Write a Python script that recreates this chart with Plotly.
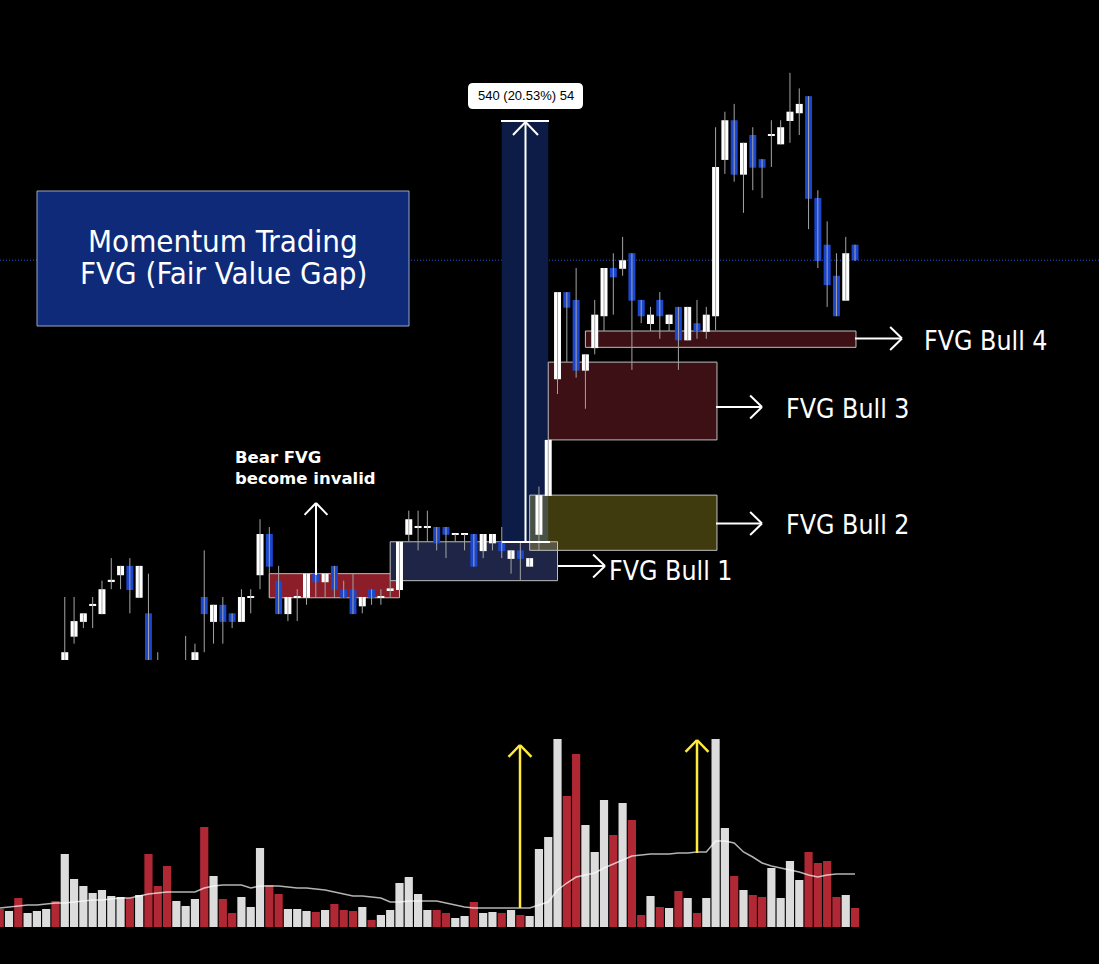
import plotly.graph_objects as go

# ---------------- data (bar index 0..92) ----------------
bar_index = list(range(93))

price_open = [
    2452, 2438, 2450, 2432, 2444, 2452, 2463, 2472, 2507, 2526,
    2548, 2536, 2579, 2586, 2598, 2557, 2537, 2467, 2451, 2432,
    2451, 2472, 2558, 2526, 2548, 2537, 2526, 2558, 2586, 2639,
    2579, 2536, 2558, 2557, 2588, 2577, 2598, 2568, 2568, 2546,
    2568, 2558, 2568, 2567, 2638, 2648, 2648, 2648, 2648, 2639,
    2639, 2639, 2617, 2627, 2629, 2607, 2618, 2597, 2638, 2688,
    2838, 2950, 2940, 2849, 2878, 2919, 2981, 2980, 3000, 2940,
    2909, 2940, 2909, 2931, 2888, 2910, 2899, 2919, 3120, 3171,
    3101, 3152, 3121, 3152, 3140, 3170, 3180, 3202, 3071, 3011,
    2971, 2939, 3011]
price_high = [
    2466, 2455, 2462, 2448, 2458, 2470, 2474, 2558, 2558, 2537,
    2558, 2579, 2608, 2598, 2608, 2598, 2588, 2487, 2469, 2467,
    2508, 2498, 2618, 2548, 2558, 2537, 2568, 2568, 2658, 2648,
    2598, 2558, 2568, 2588, 2588, 2588, 2598, 2579, 2588, 2558,
    2568, 2568, 2579, 2629, 2669, 2669, 2669, 2648, 2648, 2639,
    2639, 2639, 2639, 2639, 2648, 2618, 2629, 2608, 2700, 2760,
    2950, 2950, 2981, 2870, 2940, 2981, 3000, 3021, 3000, 2940,
    2931, 2950, 2921, 2931, 2931, 2940, 2931, 3162, 3182, 3192,
    3142, 3162, 3121, 3171, 3171, 3232, 3212, 3202, 3081, 3041,
    3000, 3021, 3011]
price_low = [
    2430, 2431, 2425, 2428, 2440, 2446, 2448, 2464, 2498, 2518,
    2518, 2536, 2568, 2568, 2537, 2557, 2458, 2436, 2426, 2423,
    2444, 2467, 2487, 2498, 2498, 2518, 2526, 2537, 2568, 2557,
    2536, 2527, 2527, 2548, 2557, 2557, 2557, 2557, 2536, 2537,
    2548, 2548, 2558, 2567, 2629, 2618, 2629, 2618, 2608, 2629,
    2618, 2597, 2608, 2618, 2608, 2588, 2579, 2597, 2618, 2688,
    2819, 2860, 2840, 2800, 2870, 2900, 2921, 2971, 2850, 2910,
    2900, 2890, 2900, 2850, 2888, 2890, 2890, 2901, 3102, 3092,
    3052, 3081, 3071, 3111, 3140, 3142, 3152, 3031, 2981, 2931,
    2919, 2939, 2990]
price_close = [
    2438, 2450, 2432, 2444, 2452, 2463, 2455, 2487, 2527, 2537,
    2548, 2568, 2579, 2598, 2567, 2598, 2467, 2451, 2438, 2456,
    2472, 2487, 2536, 2548, 2526, 2526, 2558, 2558, 2639, 2597,
    2536, 2558, 2558, 2588, 2577, 2588, 2567, 2557, 2536, 2558,
    2557, 2558, 2568, 2629, 2658, 2648, 2648, 2627, 2638, 2639,
    2639, 2597, 2639, 2639, 2617, 2618, 2607, 2608, 2689, 2760,
    2950, 2930, 2849, 2870, 2921, 2981, 2969, 2991, 2939, 2919,
    2921, 2919, 2921, 2888, 2931, 2899, 2921, 3111, 3171, 3101,
    3142, 3110, 3110, 3152, 3162, 3182, 3192, 3070, 2990, 2959,
    2919, 3000, 2991]
volume = [
    18, 16, 29, 14, 16, 18, 26, 73, 48, 41,
    34, 37, 31, 30, 29, 32, 73, 41, 61, 26,
    21, 28, 100, 51, 28, 14, 30, 20, 79, 42,
    33, 18, 18, 16, 15, 17, 23, 17, 16, 20,
    7, 12, 17, 44, 50, 33, 17, 17, 14, 9,
    11, 25, 14, 15, 14, 17, 12, 11, 78, 90,
    188, 131, 173, 102, 75, 127, 92, 124, 107, 12,
    31, 20, 19, 36, 29, 14, 29, 188, 99, 51,
    37, 32, 30, 59, 29, 66, 47, 75, 64, 66,
    30, 32, 19]
volume_ma = [
    19, 20, 21, 22, 22, 23, 24, 24, 25, 26,
    27, 27, 28, 29, 29, 31, 33, 34, 35, 35,
    35, 35, 39, 41, 42, 42, 42, 39, 41, 41,
    41, 40, 39, 39, 38, 37, 35, 33, 31, 31,
    30, 29, 25, 25, 26, 26, 26, 26, 24, 22,
    20, 19, 19, 19, 19, 19, 19, 19, 22, 25,
    37, 44, 50, 52, 54, 59, 63, 67, 71, 72,
    73, 73, 73, 74, 74, 75, 75, 86, 86, 84,
    75, 70, 64, 61, 59, 57, 55, 52, 50, 52,
    53, 53, 53]

# FVG zones: (start bar, end bar, low price, high price)
bear_fvg = (29, 43, 2557, 2588)
bull_fvg_1 = (42, 60, 2579, 2629)
bull_fvg_2 = (57, 77.15, 2618, 2689)
bull_fvg_3 = (59, 77.15, 2760, 2860)
bull_fvg_4 = (63, 92.1, 2879, 2900)
measure = (54, 59, 2630, 3170)
measure_label = "540 (20.53%) 54"

title_lines = ["Momentum Trading", "FVG (Fair Value Gap)"]
bull_labels = ["FVG Bull 1", "FVG Bull 2", "FVG Bull 3", "FVG Bull 4"]
bear_label = ["Bear FVG", "become invalid"]

# ---------------- styling ----------------
W, H = 1099, 964
UP = "#FFFFFF"
DOWN = "#1B47CF"
VOL_UP = "#DCDCDC"
VOL_DOWN = "#B02834"
FONT = "DejaVu Sans Condensed, DejaVu Sans, sans-serif"


def px(x):
    return x / W


def py(y):
    return 1 - y / H


fig = go.Figure()

# wicks
wx, wy = [], []
for i, h, l in zip(bar_index, price_high, price_low):
    wx += [i, i, None]
    wy += [h, l, None]
fig.add_trace(go.Scatter(x=wx, y=wy, mode="lines", line=dict(color="#a4a4a4", width=1),
                         hoverinfo="skip", yaxis="y"))

# bodies
body_base, body_h, body_col = [], [], []
for o, c in zip(price_open, price_close):
    d = abs(c - o)
    if d < 2.2:
        body_base.append(min(o, c) - 1.1)
        body_h.append(2.2)
    else:
        body_base.append(min(o, c))
        body_h.append(d)
    body_col.append(UP if c >= o else DOWN)
fig.add_trace(go.Bar(x=bar_index, y=body_h, base=body_base, width=0.75,
                     marker=dict(color=body_col, line=dict(width=0)), yaxis="y",
                     hoverinfo="skip"))

# volume
vol_col = [VOL_UP if c >= o else VOL_DOWN for o, c in zip(price_open, price_close)]
fig.add_trace(go.Bar(x=bar_index, y=volume, width=0.88, yaxis="y2",
                     marker=dict(color=vol_col, line=dict(width=0)), hoverinfo="skip"))
fig.add_trace(go.Scatter(x=bar_index, y=volume_ma, yaxis="y2", mode="lines",
                         line=dict(color="rgba(255,255,255,0.7)", width=1.5), hoverinfo="skip"))

shapes = []
# last price dotted line
shapes.append(dict(type="line", xref="paper", x0=0, x1=1, yref="y", y0=price_close[-1],
                   y1=price_close[-1], line=dict(color="#2B4FE0", width=1, dash="1px,2px"),
                   layer="below"))
# measure box
shapes.append(dict(type="rect", xref="x", yref="y", x0=measure[0], x1=measure[1],
                   y0=measure[2], y1=measure[3], fillcolor="#0C1C47",
                   line=dict(width=0), layer="below"))


def zone(z, fill):
    return dict(type="rect", xref="x", yref="y", x0=z[0], x1=z[1], y0=z[2], y1=z[3],
                fillcolor=fill, line=dict(color="#BDBDBD", width=1), layer="below")


shapes.append(zone(bear_fvg, "#8B1E28"))
shapes.append(zone(bull_fvg_1, "#1F2547"))
shapes.append(zone(bull_fvg_3, "#3C1014"))
shapes.append(zone(bull_fvg_4, "#3C1014"))
shapes.append(zone(bull_fvg_2, "rgba(255,235,59,0.25)"))

# title box
shapes.append(dict(type="rect", xref="paper", yref="paper", x0=px(37), x1=px(409),
                   y0=py(326), y1=py(191), fillcolor="#0E2A78",
                   line=dict(color="#9AA6C8", width=1), layer="below"))


def line_px(x0, y0, x1, y1, color, width=2):
    return dict(type="line", xref="paper", yref="paper", x0=px(x0), y0=py(y0),
                x1=px(x1), y1=py(y1), line=dict(color=color, width=width), layer="above")


def arrow(x0, y0, x1, y1, color, width=2, arm=16.5):
    import math
    ang = math.atan2(y1 - y0, x1 - x0)
    out = [line_px(x0, y0, x1, y1, color, width)]
    for s in (1, -1):
        a = ang + math.pi + s * math.radians(44)
        out.append(line_px(x1, y1, x1 + arm * math.cos(a), y1 + arm * math.sin(a), color, width))
    return out


# measure tool arrow
shapes += arrow(525.5, 541, 525.5, 122, "#FFFFFF", 2, 18)
shapes.append(line_px(501, 121, 549, 121, "#FFFFFF", 2))
shapes.append(line_px(502, 542, 550, 542, "#FFFFFF", 2))
# rounded label box
x0, x1, y0, y1, r = 468, 583, 83, 109, 5
path = (f"M {px(x0 + r)} {py(y0)} L {px(x1 - r)} {py(y0)} Q {px(x1)} {py(y0)} {px(x1)} {py(y0 + r)} "
        f"L {px(x1)} {py(y1 - r)} Q {px(x1)} {py(y1)} {px(x1 - r)} {py(y1)} "
        f"L {px(x0 + r)} {py(y1)} Q {px(x0)} {py(y1)} {px(x0)} {py(y1 - r)} "
        f"L {px(x0)} {py(y0 + r)} Q {px(x0)} {py(y0)} {px(x0 + r)} {py(y0)} Z")
shapes.append(dict(type="path", xref="paper", yref="paper", path=path, fillcolor="#FFFFFF",
                   line=dict(width=0), layer="above"))

# FVG arrows
shapes += arrow(316, 575, 316, 503, "#FFFFFF")
shapes += arrow(558, 566, 605, 566, "#FFFFFF")
shapes += arrow(716, 523.5, 762, 523.5, "#FFFFFF")
shapes += arrow(716, 407, 762, 407, "#FFFFFF")
shapes += arrow(855, 338.5, 902, 338.5, "#FFFFFF")
# volume arrows
shapes += arrow(520, 908, 520, 745, "#FFEB3B", 2.5)
shapes += arrow(697, 853, 697, 740, "#FFEB3B", 2.5)

annotations = []


def text(t, x, y, size, xanchor="left", color="#FFFFFF", family=FONT):
    annotations.append(dict(text=t, x=px(x), y=py(y), xref="paper", yref="paper",
                            xanchor=xanchor, yanchor="middle", showarrow=False,
                            font=dict(size=size, color=color, family=family)))


text(title_lines[0], 223, 241, 31, "center")
text(title_lines[1], 223, 273, 31, "center")
text(bull_labels[0], 607, 570, 26.5)
text(bull_labels[1], 784, 524, 26.5)
text(bull_labels[2], 784, 408, 26.5)
text(bull_labels[3], 922, 340, 26.5)
text("<b>" + bear_label[0] + "</b>", 233, 457, 16.5, family="DejaVu Sans, sans-serif")
text("<b>" + bear_label[1] + "</b>", 233, 478, 16.5, family="DejaVu Sans, sans-serif")
text(measure_label, 525.5, 96, 13, "center", "#000000", "Liberation Sans, Arial, sans-serif")

fig.update_layout(
    width=W, height=H, margin=dict(l=0, r=0, t=0, b=0),
    paper_bgcolor="#000000", plot_bgcolor="#000000",
    showlegend=False, barmode="overlay", hovermode=False,
    xaxis=dict(range=[0.032, 118.24], visible=False, domain=[0, 1], fixedrange=True),
    yaxis=dict(domain=[1 - 660 / H, 1], range=[2477, 3325.6], visible=False, fixedrange=True),
    yaxis2=dict(domain=[37 / H, 225 / H], range=[0, 188], visible=False, anchor="x",
                fixedrange=True),
    shapes=shapes, annotations=annotations,
)

fig.write_html("out.html", config={"displayModeBar": False},
               post_script="document.body.style.margin='0';document.body.style.overflow='hidden';")
